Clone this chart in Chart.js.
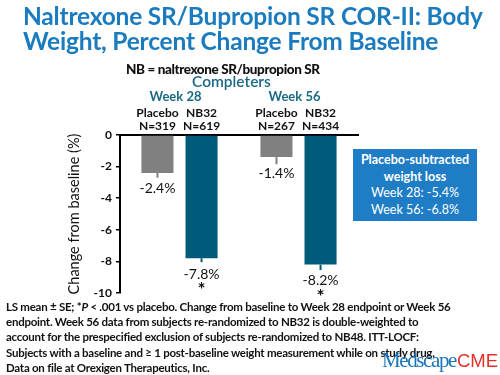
<!DOCTYPE html>
<html>
<head>
<meta charset="utf-8">
<script src="https://cdn.jsdelivr.net/npm/chart.js@4.4.0/dist/chart.umd.min.js"></script>
<style>
  body { margin: 0; width: 500px; height: 375px; overflow: hidden; background: #fff; font-family: Lato, sans-serif; }
  .abs { position: absolute; white-space: nowrap; }
  #title { left: 23px; top: 3px; color: #1b7bbf; font-weight: bold; font-size: 24.5px; line-height: 25px; letter-spacing: -0.2px; }
  #nbNote { left: 126px; top: 61px; font-weight: 900; font-size: 13.5px; color: #111; letter-spacing: -0.4px; }
  #completers { left: 192px; top: 72px; font-size: 15.5px; font-weight: 600; color: #1a6a86; }
  #box { left: 353px; top: 149px; width: 124px; height: 72px; background: #1f7dc5; color: #fff; text-align: center; font-size: 12.5px; line-height: 16.5px; padding-top: 3px; box-sizing: border-box; }
  #foot { left: 6px; top: 299px; font-weight: bold; font-size: 11.5px; line-height: 15.2px; color: #111; letter-spacing: -0.25px; }
  #logo { left: 382px; top: 348px; line-height: 24px; }
  #logo .med { font-family: "Liberation Serif", serif; color: #1b75bb; letter-spacing: -1.4px; font-size: 21px; }
  #logo .cme { font-family: "Liberation Sans", sans-serif; color: #e3322b; font-size: 18.5px; margin-left: 1px; }
  #wrap { position: absolute; left: 0; top: 0; width: 500px; height: 375px; }
</style>
</head>
<body>
<div id="wrap"><canvas id="chart" width="500" height="375"></canvas></div>
<div class="abs" id="title">Naltrexone SR/Bupropion SR COR-II: Body<br>Weight, Percent Change From Baseline</div>
<div class="abs" id="nbNote">NB = naltrexone SR/bupropion SR</div>
<div class="abs" id="completers">Completers</div>
<div class="abs" id="box"><b>Placebo-subtracted<br>weight loss</b><br>Week 28: -5.4%<br>Week 56: -6.8%</div>
<div class="abs" id="foot">LS mean ± SE; *<i>P</i> &lt; .001 vs placebo. Change from baseline to Week 28 endpoint or Week 56<br>endpoint. Week 56 data from subjects re-randomized to NB32 is double-weighted to<br>account for the prespecified exclusion of subjects re-randomized to NB48. ITT-LOCF:<br>Subjects with a baseline and ≥ 1 post-baseline weight measurement while on study drug.<br>Data on file at Orexigen Therapeutics, Inc.</div>
<div class="abs" id="logo"><span class="med">Medscape</span><span class="cme">CME</span></div>
<script>
// Chart data
const weeks = ['Week 28', 'Week 56'];
const placeboChange = [-2.4, -1.4];
const nb32Change = [-7.8, -8.2];
const placeboSE = [0.3, 0.45];
const nb32SE = [0.25, 0.35];
const placeboN = [319, 267];
const nb32N = [619, 434];
const nb32Star = [true, true];
const yTicks = [0, -2, -4, -6, -8, -10];

const teal = '#005b7a';
const gray = '#808080';

// Draws error stubs, value labels, stars and the labels above each bar
const barLabels = {
    id: 'barLabels',
    afterDatasetsDraw(chart) {
        const ctx = chart.ctx;
        const y = chart.scales.y;
        const x = chart.scales.x;
        ctx.save();
        ctx.textAlign = 'center';
        ctx.textBaseline = 'middle';

        // week labels above each group
        ctx.fillStyle = '#1a6a86';
        ctx.font = 'bold 13px Lato';
        weeks.forEach((w, i) => {
            ctx.fillText(w, x.getPixelForValue(i) - 4, 97);
        });

        chart.data.datasets.forEach((ds, di) => {
            const meta = chart.getDatasetMeta(di);
            meta.data.forEach((bar, i) => {
                const v = ds.data[i];
                const yEnd = y.getPixelForValue(v - ds.se[i]);
                // error bar (only lower half shows below the bar)
                ctx.strokeStyle = ds.backgroundColor;
                ctx.lineWidth = 2;
                ctx.beginPath();
                ctx.moveTo(bar.x, bar.y);
                ctx.lineTo(bar.x, yEnd);
                ctx.stroke();

                ctx.fillStyle = '#111';
                ctx.font = '14px Lato';
                ctx.fillText(v.toFixed(1) + '%', bar.x, bar.y + 16);
                if (ds.star && ds.star[i]) {
                    ctx.font = 'bold 19px Lato';
                    ctx.fillText('*', bar.x, bar.y + 32);
                }

                ctx.font = 'bold 12px Lato';
                ctx.fillText(ds.label, bar.x, 113);
                ctx.fillText('N=' + ds.n[i], bar.x, 126);
            });
        });
        ctx.restore();
    }
};

new Chart(document.getElementById('chart'), {
    type: 'bar',
    data: {
        labels: weeks,
        datasets: [
            { label: 'Placebo', data: placeboChange, se: placeboSE, n: placeboN, backgroundColor: gray },
            { label: 'NB32', data: nb32Change, se: nb32SE, n: nb32N, star: nb32Star, backgroundColor: teal }
        ]
    },
    options: {
        responsive: false,
        animation: false,
        categoryPercentage: 0.741,
        barPercentage: 0.727,
        layout: { padding: { top: 135, bottom: 82, left: 0, right: 142 } },
        plugins: { legend: { display: false }, tooltip: { enabled: false } },
        scales: {
            x: {
                position: 'top',
                grid: { display: false },
                border: { display: true, color: '#000', width: 2 },
                ticks: { display: false },
                afterFit: (s) => { s.height = 0; }
            },
            y: {
                min: -10,
                max: 0,
                afterBuildTicks: (s) => { s.ticks = yTicks.map(v => ({ value: v })); },
                ticks: { color: '#111', font: { family: 'Lato', size: 12, weight: 'bold' }, padding: 4 },
                grid: { drawOnChartArea: false, drawTicks: true, tickLength: 4, color: '#000', lineWidth: 1.5 },
                border: { display: true, color: '#000', width: 2 },
                title: {
                    display: true,
                    text: 'Change from baseline (%)',
                    color: '#111',
                    font: { family: 'Lato', size: 14.5 },
                    padding: { top: 66, bottom: 0 }
                },
                afterFit: (s) => { s.width = 120; }
            }
        }
    },
    plugins: [barLabels]
});
</script>
</body>
</html>
